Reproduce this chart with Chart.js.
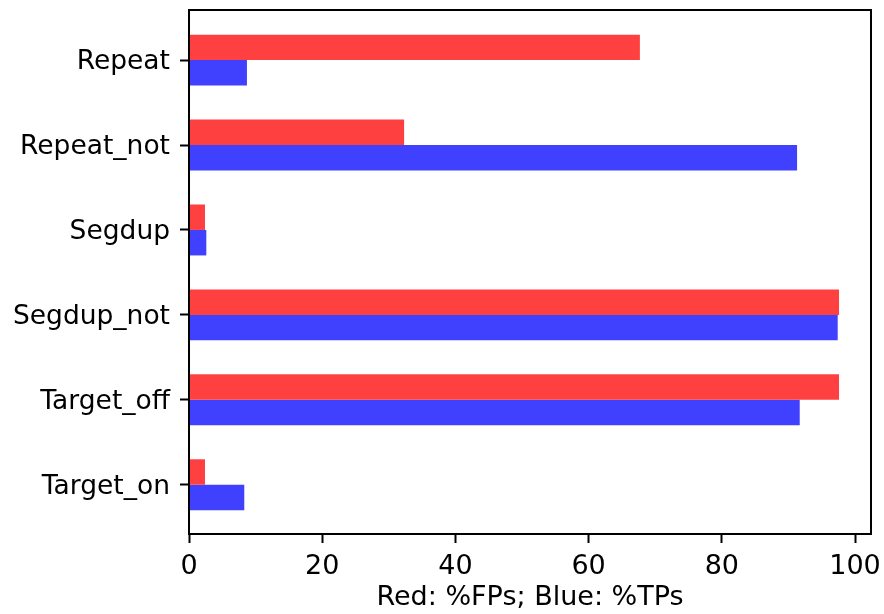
<!DOCTYPE html>
<html>
<head>
<meta charset="utf-8">
<script src="https://cdn.jsdelivr.net/npm/chart.js@4"></script>
<style>
  body { margin: 0; background: #fff; }
  #wrap { width: 884px; height: 614px; }
</style>
</head>
<body>
<div id="wrap"><canvas id="chart"></canvas></div>
<script>
const categories = ["Repeat", "Repeat_not", "Segdup", "Segdup_not", "Target_off", "Target_on"];
const fpPct = [67.7, 32.3, 2.4, 97.6, 97.6, 2.4];   // red
const tpPct = [8.7, 91.3, 2.6, 97.4, 91.7, 8.3];    // blue
const xTicks = [0, 20, 40, 60, 80, 100];

// box around the plot area (matplotlib spines)
const frame = {
  id: "frame",
  afterDraw(chart) {
    const a = chart.chartArea;
    const ctx = chart.ctx;
    ctx.save();
    ctx.strokeStyle = "#000";
    ctx.lineWidth = 2;
    ctx.strokeRect(a.left, a.top, a.right - a.left, a.bottom - a.top);
    ctx.restore();
  }
};

new Chart(document.getElementById("chart"), {
  type: "bar",
  data: {
    datasets: [
      {
        label: "%FPs",
        data: categories.map((c, i) => ({ x: fpPct[i], y: i })),
        backgroundColor: "rgb(255,64,64)"
      },
      {
        label: "%TPs",
        data: categories.map((c, i) => ({ x: tpPct[i], y: i })),
        backgroundColor: "rgb(64,64,255)"
      }
    ]
  },
  options: {
    indexAxis: "y",
    responsive: true,
    maintainAspectRatio: false,
    animation: false,
    categoryPercentage: 0.6,
    barPercentage: 1.0,
    layout: { padding: { top: 10, right: 13, left: 0, bottom: 0 } },
    plugins: {
      legend: { display: false },
      tooltip: { enabled: false }
    },
    scales: {
      x: {
        type: "linear",
        min: 0,
        max: 102.4,
        bounds: "data",
        offset: false,
        border: { display: false },
        grid: { offset: false, drawOnChartArea: false, drawTicks: true, tickLength: 9, tickWidth: 2, tickColor: "#000" },
        ticks: { color: "#000", font: { family: "DejaVu Sans", size: 27 }, padding: 8, maxRotation: 0, autoSkip: false },
        title: { display: true, text: "Red: %FPs; Blue: %TPs", color: "#000", font: { family: "DejaVu Sans", size: 27 }, padding: { top: 0, bottom: 0 } },
        afterBuildTicks(scale) { scale.ticks = xTicks.map(v => ({ value: v })); },
        afterFit(scale) { scale.height = 80; scale.paddingLeft = 0; scale.paddingRight = 0; }
      },
      y: {
        type: "linear",
        reverse: true,
        min: -0.59,
        max: 5.58,
        bounds: "data",
        offset: false,
        border: { display: false },
        grid: { offset: false, drawOnChartArea: false, drawTicks: true, tickLength: 9, tickWidth: 2, tickColor: "#000" },
        ticks: {
          color: "#000",
          font: { family: "DejaVu Sans", size: 26.5 },
          padding: 10,
          labelOffset: 2,
          autoSkip: false,
          callback: v => categories[v]
        },
        afterBuildTicks(scale) { scale.ticks = categories.map((c, i) => ({ value: i })); },
        afterFit(scale) { scale.width = 189; scale.paddingTop = 0; scale.paddingBottom = 0; }
      }
    }
  },
  plugins: [frame]
});
</script>
</body>
</html>
